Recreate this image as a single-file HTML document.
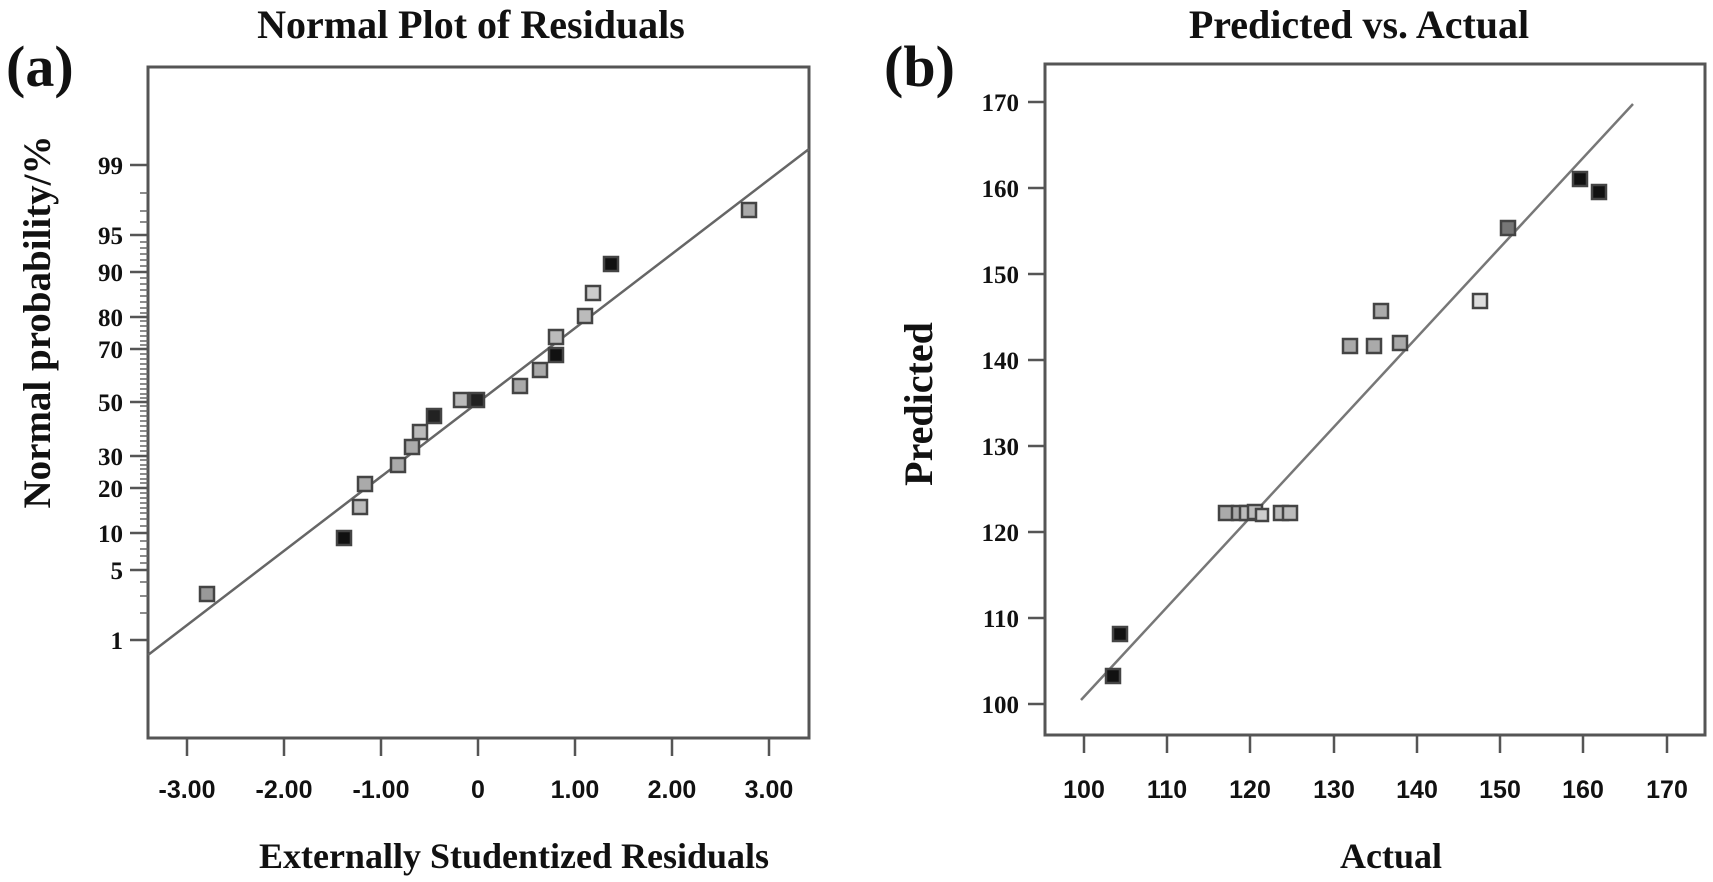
<!DOCTYPE html>
<html><head><meta charset="utf-8"><style>
html,body{margin:0;padding:0;background:#fff;}
svg{display:block;}
text{font-family:"Liberation Serif",serif;fill:#111;}
.s{font-family:"Liberation Sans",sans-serif;}
</style></head><body>
<svg width="1713" height="882" viewBox="0 0 1713 882" xmlns="http://www.w3.org/2000/svg">
<!-- Panel a -->
<text x="6" y="86" font-size="58" font-weight="bold">(a)</text>
<text x="471" y="38" font-size="40" font-weight="bold" text-anchor="middle">Normal Plot of Residuals</text>
<rect x="148" y="67" width="661" height="671" fill="none" stroke="#555" stroke-width="3"/>
<g stroke="#555" stroke-width="2.5">
<line x1="130" y1="165" x2="148" y2="165"/><line x1="130" y1="235" x2="148" y2="235"/>
<line x1="130" y1="272" x2="148" y2="272"/><line x1="130" y1="317" x2="148" y2="317"/>
<line x1="130" y1="349" x2="148" y2="349"/><line x1="130" y1="402" x2="148" y2="402"/>
<line x1="130" y1="456" x2="148" y2="456"/><line x1="130" y1="488" x2="148" y2="488"/>
<line x1="130" y1="533" x2="148" y2="533"/><line x1="130" y1="570" x2="148" y2="570"/>
<line x1="130" y1="640" x2="148" y2="640"/>
</g>
<g stroke="#666" stroke-width="1.5">
<line x1="140" y1="193" x2="148" y2="193"/><line x1="140" y1="211" x2="148" y2="211"/>
<line x1="140" y1="222" x2="148" y2="222"/><line x1="140" y1="242" x2="148" y2="242"/>
<line x1="140" y1="248" x2="148" y2="248"/><line x1="140" y1="254" x2="148" y2="254"/>
<line x1="140" y1="260" x2="148" y2="260"/><line x1="140" y1="266" x2="148" y2="266"/>
<line x1="140" y1="278" x2="148" y2="278"/><line x1="140" y1="284" x2="148" y2="284"/>
<line x1="140" y1="290" x2="148" y2="290"/><line x1="140" y1="296" x2="148" y2="296"/>
<line x1="140" y1="302" x2="148" y2="302"/><line x1="140" y1="308" x2="148" y2="308"/>
<line x1="140" y1="313" x2="148" y2="313"/><line x1="140" y1="321" x2="148" y2="321"/>
<line x1="140" y1="326" x2="148" y2="326"/><line x1="140" y1="331" x2="148" y2="331"/>
<line x1="140" y1="336" x2="148" y2="336"/><line x1="140" y1="341" x2="148" y2="341"/>
<line x1="140" y1="345" x2="148" y2="345"/><line x1="140" y1="354" x2="148" y2="354"/>
<line x1="140" y1="359" x2="148" y2="359"/><line x1="140" y1="364" x2="148" y2="364"/>
<line x1="140" y1="369" x2="148" y2="369"/><line x1="140" y1="374" x2="148" y2="374"/>
<line x1="140" y1="379" x2="148" y2="379"/><line x1="140" y1="384" x2="148" y2="384"/>
<line x1="140" y1="389" x2="148" y2="389"/><line x1="140" y1="394" x2="148" y2="394"/>
<line x1="140" y1="398" x2="148" y2="398"/><line x1="140" y1="406" x2="148" y2="406"/>
<line x1="140" y1="411" x2="148" y2="411"/><line x1="140" y1="416" x2="148" y2="416"/>
<line x1="140" y1="421" x2="148" y2="421"/><line x1="140" y1="426" x2="148" y2="426"/>
<line x1="140" y1="431" x2="148" y2="431"/><line x1="140" y1="436" x2="148" y2="436"/>
<line x1="140" y1="441" x2="148" y2="441"/><line x1="140" y1="446" x2="148" y2="446"/>
<line x1="140" y1="451" x2="148" y2="451"/><line x1="140" y1="460" x2="148" y2="460"/>
<line x1="140" y1="465" x2="148" y2="465"/><line x1="140" y1="469" x2="148" y2="469"/>
<line x1="140" y1="474" x2="148" y2="474"/><line x1="140" y1="479" x2="148" y2="479"/>
<line x1="140" y1="483" x2="148" y2="483"/><line x1="140" y1="493" x2="148" y2="493"/>
<line x1="140" y1="498" x2="148" y2="498"/><line x1="140" y1="503" x2="148" y2="503"/>
<line x1="140" y1="508" x2="148" y2="508"/><line x1="140" y1="513" x2="148" y2="513"/>
<line x1="140" y1="519" x2="148" y2="519"/><line x1="140" y1="526" x2="148" y2="526"/>
<line x1="140" y1="541" x2="148" y2="541"/><line x1="140" y1="549" x2="148" y2="549"/>
<line x1="140" y1="556" x2="148" y2="556"/><line x1="140" y1="563" x2="148" y2="563"/>
<line x1="140" y1="582" x2="148" y2="582"/><line x1="140" y1="596" x2="148" y2="596"/>
<line x1="140" y1="613" x2="148" y2="613"/>
</g>
<g font-size="25" text-anchor="end" font-weight="bold">
<text x="123" y="174">99</text><text x="123" y="244">95</text><text x="123" y="281">90</text>
<text x="123" y="326">80</text><text x="123" y="358">70</text><text x="123" y="411">50</text>
<text x="123" y="465">30</text><text x="123" y="497">20</text><text x="123" y="542">10</text>
<text x="123" y="579">5</text><text x="123" y="649">1</text>
</g>
<g stroke="#555" stroke-width="2.5">
<line x1="187" y1="738" x2="187" y2="756"/><line x1="284" y1="738" x2="284" y2="756"/>
<line x1="381" y1="738" x2="381" y2="756"/><line x1="478" y1="738" x2="478" y2="756"/>
<line x1="575" y1="738" x2="575" y2="756"/><line x1="672" y1="738" x2="672" y2="756"/>
<line x1="769" y1="738" x2="769" y2="756"/>
</g>
<g font-size="25" text-anchor="middle" font-weight="bold">
<text class="s" x="187" y="798">-3.00</text><text class="s" x="284" y="798">-2.00</text><text class="s" x="381" y="798">-1.00</text>
<text class="s" x="478" y="798">0</text><text class="s" x="575" y="798">1.00</text><text class="s" x="672" y="798">2.00</text>
<text class="s" x="769" y="798">3.00</text>
</g>
<text x="514" y="868" font-size="36" font-weight="bold" text-anchor="middle">Externally Studentized Residuals</text>
<text transform="translate(50,322) rotate(-90)" font-size="39" font-weight="bold" text-anchor="middle">Normal  probability/%</text>
<line x1="148" y1="655" x2="809" y2="149" stroke="#666" stroke-width="2.5"/>
<g stroke="#444" stroke-width="2.5">
<rect x="200" y="587" width="14" height="14" fill="#999"/>
<rect x="337" y="531" width="14" height="14" fill="#111"/>
<rect x="353" y="500" width="14" height="14" fill="#bbb"/>
<rect x="358" y="477" width="14" height="14" fill="#aaa"/>
<rect x="391" y="458" width="14" height="14" fill="#aaa"/>
<rect x="405" y="440" width="14" height="14" fill="#aaa"/>
<rect x="413" y="425" width="14" height="14" fill="#bbb"/>
<rect x="427" y="409" width="14" height="14" fill="#222"/>
<rect x="454" y="393" width="14" height="14" fill="#bbb"/>
<rect x="470" y="393" width="14" height="14" fill="#222"/>
<rect x="513" y="379" width="14" height="14" fill="#aaa"/>
<rect x="533" y="363" width="14" height="14" fill="#aaa"/>
<rect x="549" y="348" width="14" height="14" fill="#111"/>
<rect x="549" y="330" width="14" height="14" fill="#bbb"/>
<rect x="578" y="309" width="14" height="14" fill="#bbb"/>
<rect x="586" y="286" width="14" height="14" fill="#ccc"/>
<rect x="604" y="257" width="14" height="14" fill="#111"/>
<rect x="742" y="203" width="14" height="14" fill="#aaa"/>
</g>
<!-- Panel b -->
<text x="884" y="86" font-size="58" font-weight="bold">(b)</text>
<text x="1359" y="38" font-size="40" font-weight="bold" text-anchor="middle">Predicted vs. Actual</text>
<rect x="1045" y="64" width="660" height="671" fill="none" stroke="#555" stroke-width="3"/>
<g stroke="#555" stroke-width="2.5">
<line x1="1028" y1="102" x2="1045" y2="102"/><line x1="1028" y1="188" x2="1045" y2="188"/>
<line x1="1028" y1="274" x2="1045" y2="274"/><line x1="1028" y1="360" x2="1045" y2="360"/>
<line x1="1028" y1="446" x2="1045" y2="446"/><line x1="1028" y1="532" x2="1045" y2="532"/>
<line x1="1028" y1="618" x2="1045" y2="618"/><line x1="1028" y1="704" x2="1045" y2="704"/>
<line x1="1084" y1="735" x2="1084" y2="753"/><line x1="1167" y1="735" x2="1167" y2="753"/>
<line x1="1250" y1="735" x2="1250" y2="753"/><line x1="1334" y1="735" x2="1334" y2="753"/>
<line x1="1417" y1="735" x2="1417" y2="753"/><line x1="1500" y1="735" x2="1500" y2="753"/>
<line x1="1583" y1="735" x2="1583" y2="753"/><line x1="1667" y1="735" x2="1667" y2="753"/>
</g>
<g font-size="25" text-anchor="end" font-weight="bold">
<text x="1019" y="111">170</text><text x="1019" y="197">160</text><text x="1019" y="283">150</text>
<text x="1019" y="369">140</text><text x="1019" y="455">130</text><text x="1019" y="541">120</text>
<text x="1019" y="627">110</text><text x="1019" y="713">100</text>
</g>
<g font-size="25" text-anchor="middle" font-weight="bold">
<text class="s" x="1084" y="798">100</text><text class="s" x="1167" y="798">110</text><text class="s" x="1250" y="798">120</text>
<text class="s" x="1334" y="798">130</text><text class="s" x="1417" y="798">140</text><text class="s" x="1500" y="798">150</text>
<text class="s" x="1583" y="798">160</text><text class="s" x="1667" y="798">170</text>
</g>
<text x="1391" y="868" font-size="36" font-weight="bold" text-anchor="middle">Actual</text>
<text transform="translate(932,404) rotate(-90)" font-size="40" font-weight="bold" text-anchor="middle">Predicted</text>
<line x1="1081" y1="700" x2="1633" y2="104" stroke="#777" stroke-width="2.5"/>
<g stroke="#444" stroke-width="2.5">
<rect x="1106" y="669" width="14" height="14" fill="#111"/>
<rect x="1113" y="627" width="14" height="14" fill="#111"/>
<rect x="1219" y="506" width="14" height="14" fill="#aaa"/>
<rect x="1232" y="506" width="14" height="14" fill="#aaa"/>
<rect x="1240" y="506" width="14" height="14" fill="#bbb"/>
<rect x="1248" y="505" width="14" height="14" fill="#bbb"/>
<rect x="1256" y="509" width="12" height="12" fill="#ccc"/>
<rect x="1274" y="506" width="14" height="14" fill="#bbb"/>
<rect x="1283" y="506" width="14" height="14" fill="#bbb"/>
<rect x="1343" y="339" width="14" height="14" fill="#aaa"/>
<rect x="1367" y="339" width="14" height="14" fill="#aaa"/>
<rect x="1393" y="336" width="14" height="14" fill="#aaa"/>
<rect x="1374" y="304" width="14" height="14" fill="#aaa"/>
<rect x="1473" y="294" width="14" height="14" fill="#ddd"/>
<rect x="1501" y="221" width="14" height="14" fill="#777"/>
<rect x="1573" y="172" width="14" height="14" fill="#111"/>
<rect x="1592" y="185" width="14" height="14" fill="#111"/>
</g>
</svg>
</body></html>
